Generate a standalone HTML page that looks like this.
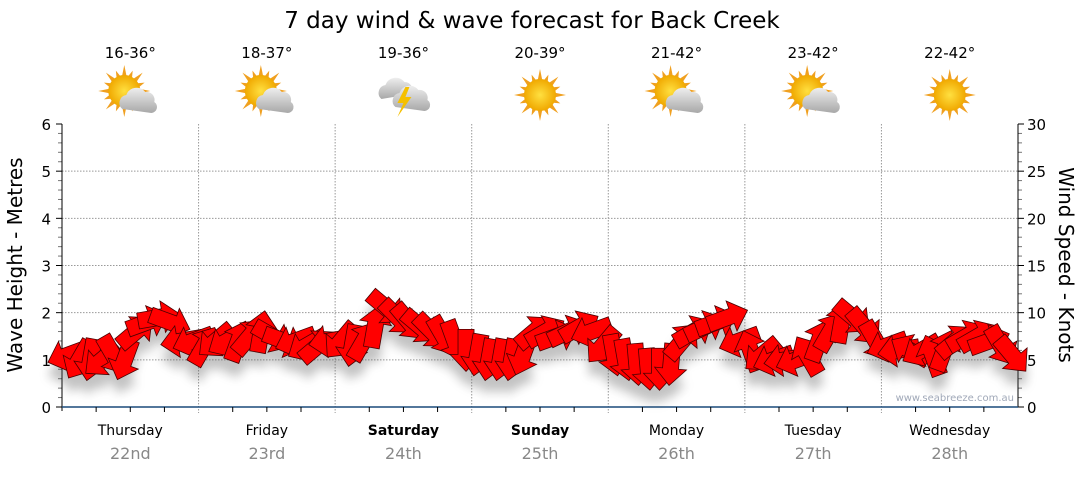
<!DOCTYPE html>
<html><head><meta charset="utf-8"><style>
body{margin:0;background:#fff;font-family:"DejaVu Sans",sans-serif;}
svg text{font-family:"DejaVu Sans","Liberation Sans",sans-serif;}
</style></head><body>
<svg id="c" width="1080" height="475" viewBox="0 0 1080 475">
<defs>
<filter id="sh" x="-50%" y="-50%" width="200%" height="200%"><feGaussianBlur stdDeviation="5"/></filter>
<radialGradient id="sun" cx="50%" cy="50%" r="50%"><stop offset="0" stop-color="#ffe040"/><stop offset="1" stop-color="#f0a800"/></radialGradient>
<linearGradient id="cl" x1="0" y1="0" x2="0" y2="1"><stop offset="0" stop-color="#eee"/><stop offset="1" stop-color="#a8a8a8"/></linearGradient>
</defs>
<text x="532" y="28" font-size="23" text-anchor="middle" fill="#000">7 day wind &amp; wave forecast for Back Creek</text>
<g id="grid"></g>
<g id="axes"></g>
<g id="shadows" filter="url(#sh)" opacity="0.35"></g>
<g id="arrows"></g>
<g id="days"></g>
<text x="1014" y="401" font-size="10" fill="#a0a8b8" text-anchor="end">www.seabreeze.com.au</text>
<text transform="translate(22,265) rotate(-90)" font-size="20" text-anchor="middle">Wave Height - Metres</text>
<text transform="translate(1059,265) rotate(90)" font-size="20" text-anchor="middle">Wind Speed - Knots</text>
</svg>
<script>
const dayNames=["Thursday","Friday","Saturday","Sunday","Monday","Tuesday","Wednesday"];
const dayDates=["22nd","23rd","24th","25th","26th","27th","28th"];
const boldDays=[false,false,true,true,false,false,false];
const temps=["16-36°","18-37°","19-36°","20-39°","21-42°","23-42°","22-42°"];
const icons=["partly","partly","storm","sun","partly","partly","sun"];
const waveTicks=[0,1,2,3,4,5,6];
const windTicks=[0,5,10,15,20,25,30];
const windSpeed=[5.5,5,5,5,5.5,5,8,9,9.5,9,7,7,
6.5,7,7,7,7.5,8,7.5,7,7,6.5,6.5,7,
7,6.5,7,8.5,10.5,9.5,9,8.5,8,7.5,7,6,
5.5,5,5,5,5.5,8,8,7.5,8,8.5,8,6.5,
5.5,5,4.5,4,4,4.5,7,8,8.5,9,9.5,7,
6,5.5,5,5,5,5.5,7,8,9,9.5,8.5,7,
6.5,6,6,6,5.5,6,7,7.5,7.5,7,6.5,5.5];
const windDir=[160,120,100,140,60,110,-40,-20,-10,20,170,160,
-60,140,150,-70,-50,-80,30,20,160,150,-40,170,
130,100,-60,-80,40,45,50,40,45,60,70,90,
100,100,100,100,110,-40,-30,-20,-25,-30,160,130,
80,80,85,85,90,95,-50,-30,-25,-20,-20,160,
-110,140,160,170,160,-120,-70,-60,-80,40,50,60,
160,170,-150,150,-110,-70,-40,-30,-30,-20,60,50];
const NS="http://www.w3.org/2000/svg";
const X0=62,X1=1018,Y0=407,Y1=124;
const dayW=(X1-X0)/7;
const yWave=v=>Y0-(v/6)*(Y0-Y1);
const yWind=v=>Y0-(v/30)*(Y0-Y1);
const xIdx=i=>X0+(i+0.5)*(X1-X0)/windSpeed.length;
function mk(t,a,p){const e=document.createElementNS(NS,t);for(const k in a)e.setAttribute(k,a[k]);(p||document.getElementById('c')).appendChild(e);return e;}
const grid=document.getElementById('grid'),axes=document.getElementById('axes');
waveTicks.forEach((v,i)=>{const y=yWave(v);
 if(v>0&&v<6){const l=mk('line',{x1:X0,x2:X1,y1:y,y2:y,stroke:'#999','stroke-dasharray':'1.5,1.5'},grid);}
 const t=mk('text',{x:X0-11,y:y+6,'font-size':15,'text-anchor':'end'},axes);t.textContent=v;
 
 mk('line',{x1:X0-6,x2:X0,y1:y,y2:y,stroke:'#000'},axes);
 if(v<6)for(let k=1;k<5;k++){const yy=y-k*(Y0-Y1)/30;mk('line',{x1:X0-4,x2:X0,y1:yy,y2:yy,stroke:'#777'},axes);}
});
windTicks.forEach(v=>{const y=yWind(v);
 const t=mk('text',{x:X1+9,y:y+6,'font-size':15},axes);t.textContent=v;
 
 mk('line',{x1:X1,x2:X1+6,y1:y,y2:y,stroke:'#000'},axes);
 if(v<30)for(let k=1;k<5;k++){const yy=y-k*(Y0-Y1)/30;mk('line',{x1:X1,x2:X1+4,y1:yy,y2:yy,stroke:'#777'},axes);}
});
mk('line',{x1:X0,x2:X0,y1:Y1,y2:Y0+4,stroke:'#000'},axes);
mk('line',{x1:X1,x2:X1,y1:Y1,y2:Y0,stroke:'#000'},axes);
mk('line',{x1:X0,x2:X1,y1:Y0,y2:Y0,stroke:'#1a4a7a','stroke-width':1.5},axes);
const days=document.getElementById('days');
dayNames.forEach((d,i)=>{const x0=X0+i*dayW,cx=x0+dayW/2;
 if(i>0){const l=mk('line',{x1:x0,x2:x0,y1:Y1,y2:Y0+6,stroke:'#999','stroke-dasharray':'1.5,1.5'},grid);}
 for(let k=1;k<4;k++){const x=x0+k*dayW/4;mk('line',{x1:x,x2:x,y1:Y0,y2:Y0+5,stroke:'#000'},axes);}
 const t=mk('text',{x:cx,y:435,'font-size':14,'text-anchor':'middle','font-weight':boldDays[i]?'bold':'normal'},days);t.textContent=d;
 
 const t2=mk('text',{x:cx,y:459,'font-size':16,'text-anchor':'middle',fill:'#888'},days);t2.textContent=dayDates[i];
 
 const t3=mk('text',{x:cx,y:58,'font-size':15,'text-anchor':'middle'},days);t3.textContent=temps[i];
 
 const g=mk('g',{transform:`translate(${cx},95)`},days);
 
 const ic=icons[i];
 if(ic!=='storm'){const sx=ic==='sun'?0:-6,sy=ic==='sun'?0:-4;
  for(let a=0;a<16;a++){const an=a*Math.PI/8,r1=14,r2=a%2?22:26;
   mk('polygon',{points:`${sx+Math.cos(an-0.18)*r1},${sy+Math.sin(an-0.18)*r1} ${sx+Math.cos(an)*r2},${sy+Math.sin(an)*r2} ${sx+Math.cos(an+0.18)*r1},${sy+Math.sin(an+0.18)*r1}`,fill:'#f0a020'},g);}
  mk('circle',{cx:sx,cy:sy,r:16,fill:'url(#sun)'},g);}
 if(ic==='partly'){mk('path',{d:'M-8,14 a8,8 0 0 1 4,-14 a11,11 0 0 1 19,-3 a8,8 0 0 1 9,10 a6,6 0 0 1 -3,11 z',fill:'url(#cl)'},g);}
 if(ic==='storm'){
  mk('path',{d:'M-22,4 a8,8 0 0 1 4,-14 a11,11 0 0 1 19,-3 a8,8 0 0 1 7,12 z',fill:'url(#cl)'},g);
  mk('path',{d:'M-8,12 a8,8 0 0 1 4,-14 a11,11 0 0 1 19,-3 a8,8 0 0 1 9,10 a6,6 0 0 1 -3,11 z',fill:'url(#cl)'},g);
  mk('polygon',{points:'2,-8 -6,8 0,8 -6,22 8,2 2,2 6,-8',fill:'#f5c000'},g);}
});
const ar=document.getElementById('arrows'),sh=document.getElementById('shadows');
const shape='-21,-8 4,-8 4,-16 21,0 4,16 4,8 -21,8';
windSpeed.forEach((v,i)=>{const x=xIdx(i),y=yWind(v),a=windDir[i];
 mk('polygon',{points:shape,transform:`translate(${x},${y+14}) rotate(${a})`,fill:'#555'},sh);
 const p=mk('polygon',{points:shape,transform:`translate(${x},${y}) rotate(${a})`,fill:'#ff0000',stroke:'#4a0000','stroke-width':0.8},ar);
 
 
});
</script>
</body></html>
